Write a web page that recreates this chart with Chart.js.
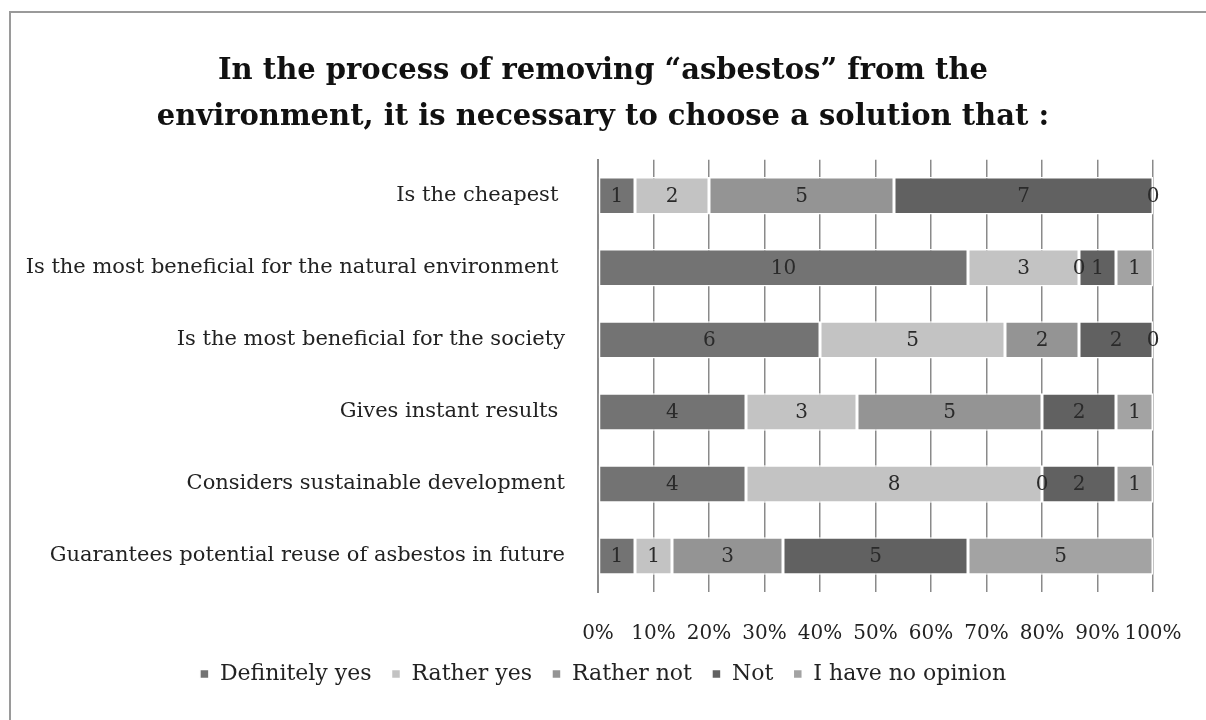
<!DOCTYPE html>
<html>
<head>
<meta charset="utf-8">
<script src="https://cdn.jsdelivr.net/npm/chart.js@4"></script>
<style>
  html, body { margin: 0; padding: 0; background: #fff; }
  #wrap { position: relative; width: 1206px; height: 720px; overflow: hidden; }
  #frame { position: absolute; left: 9px; top: 11px; width: 1300px; height: 800px;
           border-top: 2px solid #9a9a9a; border-left: 2px solid #9a9a9a; }
  canvas { position: absolute; left: 0; top: 0; }
</style>
</head>
<body>
<div id="wrap">
  <div id="frame"></div>
  <canvas id="bar-chart" width="1206" height="720"></canvas>
</div>
<script>
// categories (top to bottom)
var categories = [
  "Is the cheapest ",
  "Is the most beneficial for the natural environment ",
  "Is the most beneficial for the society",
  "Gives instant results ",
  "Considers sustainable development",
  "Guarantees potential reuse of asbestos in future"
];

// number of answers per category
var definitelyYes = [1, 10, 6, 4, 4, 1];
var ratherYes = [2, 3, 5, 3, 8, 1];
var ratherNot = [5, 0, 2, 5, 0, 3];
var notAnswer = [7, 1, 2, 2, 2, 5];
var noOpinion = [0, 1, 0, 1, 1, 5];

var seriesNames = ["Definitely yes", "Rather yes", "Rather not", "Not", "I have no opinion"];
var seriesColors = ["#737373", "#c3c3c3", "#949494", "#616161", "#a3a3a3"];
var allSeries = [definitelyYes, ratherYes, ratherNot, notAnswer, noOpinion];

// row totals, used to turn counts into 100% stacks
var totals = categories.map(function (c, i) {
  return allSeries.reduce(function (s, arr) { return s + arr[i]; }, 0);
});

var serif = "'DejaVu Serif', 'Liberation Serif', serif";

// draws the count in the middle of each bar segment
var countLabels = {
  id: "countLabels",
  afterDatasetsDraw: function (chart) {
    var ctx = chart.ctx;
    ctx.save();
    ctx.font = "20px " + serif;
    ctx.fillStyle = "#2a2a2a";
    ctx.textAlign = "center";
    ctx.textBaseline = "middle";
    chart.data.datasets.forEach(function (ds, d) {
      var meta = chart.getDatasetMeta(d);
      meta.data.forEach(function (bar, i) {
        var p = bar.getCenterPoint();
        ctx.fillText(String(ds.counts[i]), p.x, p.y + 1);
      });
    });
    ctx.restore();
  }
};

var bar_ctx = document.getElementById("bar-chart").getContext("2d");
var bar_chart = new Chart(bar_ctx, {
  type: "bar",
  data: {
    labels: categories,
    datasets: allSeries.map(function (arr, k) {
      return {
        label: seriesNames[k],
        counts: arr,
        data: arr.map(function (v, i) { return v / totals[i] * 100; }),
        backgroundColor: seriesColors[k],
        borderColor: "#ffffff",
        borderWidth: 1.5,
        borderSkipped: false,
        barPercentage: 0.52,
        categoryPercentage: 1
      };
    })
  },
  options: {
    indexAxis: "y",
    responsive: false,
    animation: false,
    layout: { padding: { left: 0, right: 0, top: 0, bottom: 25 } },
    scales: {
      x: {
        stacked: true,
        min: 0,
        max: 100,
        ticks: {
          stepSize: 10,
          padding: 15,
          maxRotation: 0,
          minRotation: 0,
          autoSkip: false,
          color: "#222",
          font: { family: serif, size: 20 },
          callback: function (v) { return v + "%"; }
        },
        grid: {
          color: "#8a8a8a",
          lineWidth: 1.5,
          drawTicks: true,
          tickLength: 15,
          tickColor: "rgba(0,0,0,0)"
        },
        border: { display: false },
        afterFit: function (scale) { scale.height = 51; }
      },
      y: {
        stacked: true,
        ticks: {
          padding: 25,
          color: "#222",
          font: { family: serif, size: 21 }
        },
        grid: { display: false },
        border: { display: true, color: "#8a8a8a", width: 2 },
        afterFit: function (scale) { scale.width = 598; }
      },
      // empty spacer on the right so the title stays centred on the page
      yRight: {
        axis: "y",
        type: "category",
        position: "right",
        ticks: { display: false },
        grid: { display: false },
        border: { display: false },
        afterFit: function (scale) { scale.width = 53; }
      }
    },
    plugins: {
      title: {
        display: true,
        text: ["In the process of removing \u201casbestos\u201d from the",
               "environment, it is necessary to choose a solution that :"],
        color: "#111",
        font: { family: serif, size: 29, weight: "bold", lineHeight: 1.6 },
        padding: { top: 48, bottom: 19 }
      },
      legend: {
        position: "bottom",
        labels: {
          boxWidth: 9,
          boxHeight: 9,
          padding: 20,
          color: "#222",
          font: { family: serif, size: 22 }
        }
      },
      tooltip: { enabled: false }
    }
  },
  plugins: [countLabels]
});
</script>
</body>
</html>
